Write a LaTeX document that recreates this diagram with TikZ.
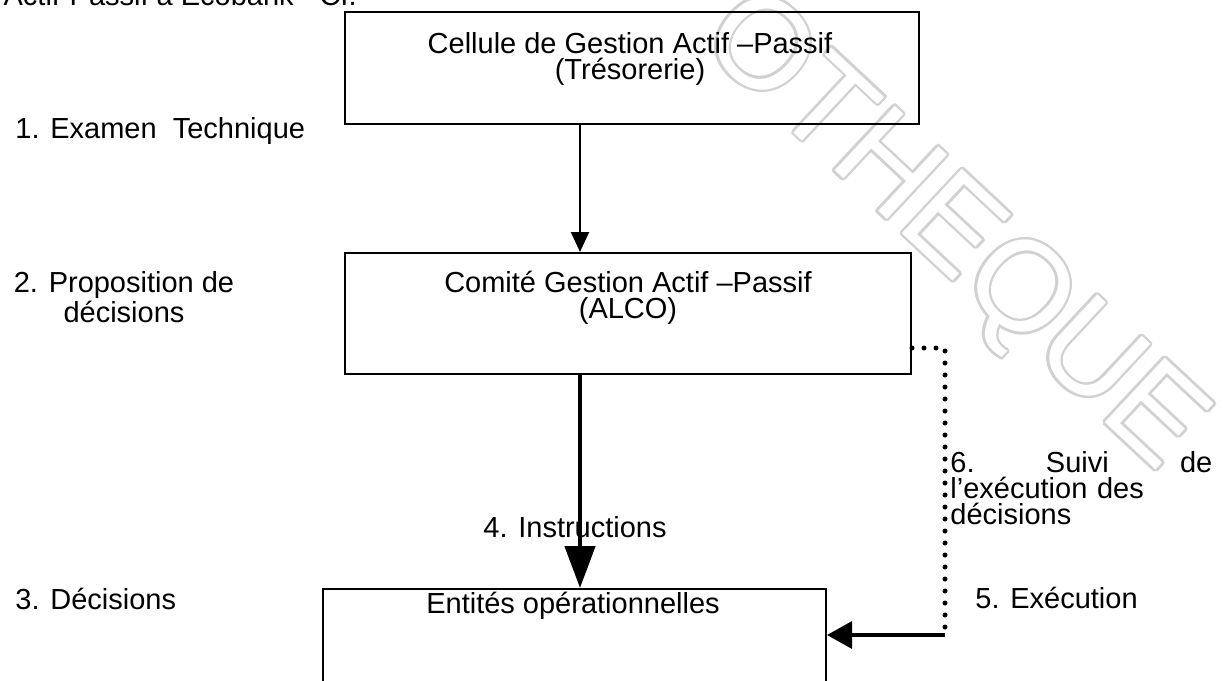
\documentclass[tikz,border=0pt]{standalone}
\usepackage{fontspec}
\setmainfont{Liberation Sans}
\usepackage{contour}
\contourlength{1.2pt}
\usetikzlibrary{positioning, arrows.meta}

\begin{document}
\begin{tikzpicture}[x=0.5pt, y=-0.5pt,
  boite/.style={draw, line width=1pt, inner sep=0pt, anchor=north west},
  txt/.style={font=\fontsize{14.5}{13}\selectfont, inner sep=0pt},
  fleche/.style={line width=1pt, -{Triangle[length=10pt, width=9pt]}},
  grosse/.style={line width=2.4pt, -{Triangle[length=21pt, width=15pt]}},
  retour/.style={line width=1.6pt, -{Triangle[length=12.5pt, width=13.5pt]}},
  suivi/.style={line width=2.5pt, line cap=round, dash pattern=on 0pt off 6pt}]
\useasboundingbox (0,0) rectangle (1228,681);
\clip (0,0) rectangle (1228,681);
% filigrane
\node[rotate=-43, font=\fontsize{64}{64}\selectfont, text=white] (filigrane) at (950,235) {\contour{black!18}{OTHEQUE}};
% ligne coupee du haut
\node[txt, anchor=base east] (titre) at (357,5) {Actif-Passif à Ecobank - CI.};
% boites
\node[boite, minimum width=287pt, minimum height=56pt] (cell) at (344,11) {};
\node[boite, minimum width=283pt, minimum height=60.5pt] (alco) at (344,252) {};
\node[boite, minimum width=251.5pt, minimum height=75pt] (ent) at (322,588) {};
\node[txt, align=center] (cellT) at (630,59) {Cellule de Gestion Actif –Passif\\(Trésorerie)};
\node[txt, align=center] (alcoT) at (628,298) {Comité Gestion Actif –Passif\\(ALCO)};
\node[txt] (entT) at (573,606) {Entités opérationnelles};
% etapes
\node[txt, anchor=base west] (etape1) at (15,138) {1. Examen~ Technique};
\node[txt, align=center] (etape2) at (124,297) {2. Proposition de\\décisions};
\node[txt, anchor=base west] (etape3) at (15,609) {3. Décisions};
\node[txt, anchor=base west] (etape4) at (483,537) {4. Instructions};
\node[txt, anchor=base west] (etape5) at (975,608) {5. Exécution};
\node[txt, align=left, text width=131pt, anchor=north west] (etape6) at (950,451)
  {\makebox[131pt][s]{6.\hfill Suivi\hfill de}\\l’exécution des\\décisions};
% liaisons
\coordinate (axe) at (580,0);
\coordinate (coin) at (945,348);
\coordinate (depart) at (945,635);
\draw[fleche] (cell.south -| axe) -- (alco.north -| axe);
\draw[grosse] (alco.south -| axe) -- (ent.north -| axe);
\draw[suivi] (alco.east |- coin) -- (coin) -- (depart);
\draw[retour] (depart) -- (ent.east |- depart);
\end{tikzpicture}
\end{document}
